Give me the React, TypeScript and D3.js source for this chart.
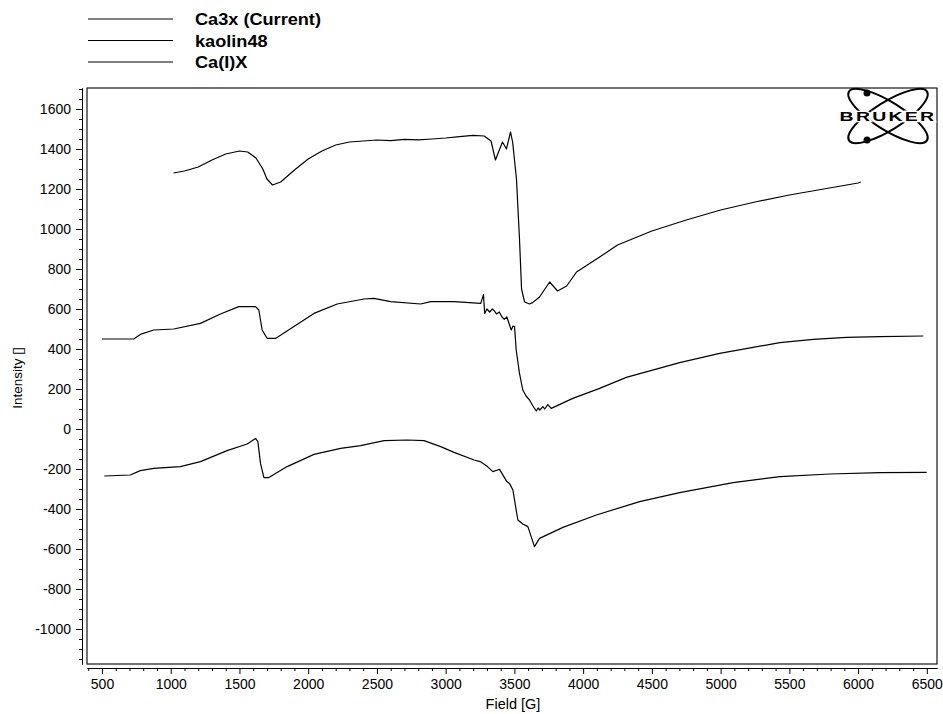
import React, { useEffect, useRef } from "react";
import * as d3 from "d3";

// EPR spectra, field [G] vs intensity
const ca3x: [number, number][] = [
  [1020, 1280], [1100, 1290], [1200, 1310], [1300, 1345], [1400, 1375], [1500, 1390],
  [1560, 1385], [1620, 1355], [1670, 1300], [1700, 1250], [1740, 1220], [1800, 1235],
  [1900, 1295], [2000, 1350], [2100, 1390], [2200, 1420], [2300, 1435], [2400, 1440],
  [2500, 1445], [2600, 1442], [2700, 1448], [2800, 1446], [2900, 1450], [3000, 1455],
  [3100, 1462], [3200, 1468], [3280, 1465], [3330, 1440], [3362, 1345], [3413, 1435],
  [3442, 1400], [3472, 1485], [3487, 1435], [3515, 1250], [3537, 950], [3552, 700],
  [3574, 635], [3610, 625], [3632, 632], [3683, 660], [3756, 735], [3814, 690],
  [3880, 715], [3952, 785], [4120, 860], [4250, 920], [4500, 990], [4750, 1045],
  [5000, 1095], [5250, 1135], [5500, 1170], [5750, 1200], [6000, 1230], [6020, 1235],
];

const kaolin48: [number, number][] = [
  [500, 450], [731, 450], [779, 473], [876, 495], [1022, 500], [1216, 528], [1362, 575],
  [1495, 612], [1617, 612], [1641, 595], [1665, 495], [1702, 453], [1762, 453],
  [1896, 512], [2042, 578], [2211, 625], [2406, 650], [2478, 653], [2600, 637],
  [2818, 625], [2891, 637], [3061, 637], [3255, 628], [3275, 672], [3284, 578],
  [3300, 600], [3320, 585], [3340, 600], [3353, 592], [3370, 575], [3390, 585],
  [3410, 560], [3426, 548], [3445, 560], [3460, 530], [3477, 495], [3490, 515],
  [3501, 512], [3513, 395], [3537, 278], [3561, 195], [3585, 165], [3610, 145],
  [3635, 115], [3659, 90], [3672, 105], [3685, 95], [3707, 112], [3720, 100],
  [3743, 122], [3768, 103], [3925, 153], [4120, 203], [4314, 258], [4702, 332],
  [4993, 378], [5236, 408], [5431, 432], [5674, 448], [5916, 458], [6159, 462], [6475, 465],
];

const caIX: [number, number][] = [
  [517, -235], [706, -230], [779, -208], [876, -197], [1070, -188], [1216, -163],
  [1410, -108], [1556, -75], [1617, -47], [1634, -63], [1653, -172], [1678, -243],
  [1714, -243], [1847, -188], [2042, -127], [2236, -97], [2381, -83], [2552, -58],
  [2721, -55], [2843, -58], [2964, -88], [3061, -117], [3207, -155], [3251, -163],
  [3304, -188], [3343, -213], [3377, -205], [3392, -202], [3445, -263], [3464, -272],
  [3489, -305], [3525, -455], [3561, -475], [3598, -488], [3646, -588], [3683, -547],
  [3853, -492], [4096, -430], [4411, -363], [4702, -318], [5091, -268], [5431, -238],
  [5795, -225], [6159, -218], [6499, -217],
];

const seriesNames = ["Ca3x (Current)", "kaolin48", "Ca(I)X"];
const xMajor = [500, 1000, 1500, 2000, 2500, 3000, 3500, 4000, 4500, 5000, 5500, 6000, 6500];
const yMajor = [1600, 1400, 1200, 1000, 800, 600, 400, 200, 0, -200, -400, -600, -800, -1000];

const W = 943;
const H = 714;
const FONT = "'Liberation Sans', Arial, sans-serif";

const App = () => {
  const ref = useRef<SVGSVGElement>(null);

  useEffect(() => {
    const svg = d3.select(ref.current);
    svg.selectAll("*").remove();

    const left = 87, right = 937, top = 88, bottom = 664;
    const x = d3.scaleLinear().domain([391, 6574]).range([left, right]);
    const y = d3.scaleLinear().domain([-1175, 1705]).range([bottom, top]);
    const plain = (d: any) => String(d);

    // frame
    svg.append("rect")
      .attr("x", left).attr("y", top)
      .attr("width", right - left).attr("height", bottom - top)
      .attr("fill", "none").attr("stroke", "#000").attr("stroke-width", 1.1);

    // y axis (offset left of frame)
    const yMinor = d3.range(-1150, 1701, 50).filter((v) => v % 200 !== 0);
    svg.append("g")
      .attr("transform", "translate(82,0)")
      .call(d3.axisLeft(y).tickValues(yMinor).tickSize(3).tickSizeOuter(0).tickFormat(() => ""));
    svg.append("g")
      .attr("transform", "translate(82,0)")
      .call(d3.axisLeft(y).tickValues(yMajor).tickSize(6).tickSizeOuter(0).tickPadding(5).tickFormat(plain))
      .call((g) => g.selectAll("text").attr("font-size", 14).attr("font-family", FONT).attr("fill", "#000"));

    // x axis (offset below frame)
    const xMinor = d3.range(400, 6501, 100).filter((v) => v % 500 !== 0);
    svg.append("g")
      .attr("transform", "translate(0,668)")
      .call(d3.axisBottom(x).tickValues(xMinor).tickSize(3).tickSizeOuter(0).tickFormat(() => ""));
    svg.append("g")
      .attr("transform", "translate(0,668)")
      .call(d3.axisBottom(x).tickValues(xMajor).tickSize(6).tickSizeOuter(0).tickPadding(5).tickFormat(plain))
      .call((g) => g.selectAll("text").attr("font-size", 14).attr("font-family", FONT).attr("fill", "#000"));

    svg.selectAll(".domain").attr("stroke", "#000");
    svg.selectAll(".tick line").attr("stroke", "#000");

    // axis titles
    svg.append("text")
      .attr("transform", "translate(22,378) rotate(-90)")
      .attr("text-anchor", "middle")
      .attr("font-family", FONT).attr("font-size", 13.5)
      .text("Intensity []");
    svg.append("text")
      .attr("x", 513).attr("y", 709)
      .attr("text-anchor", "middle")
      .attr("font-family", FONT).attr("font-size", 14.5)
      .text("Field [G]");

    // spectra
    const line = d3.line<[number, number]>().x((d) => x(d[0])).y((d) => y(d[1]));
    [ca3x, kaolin48, caIX].forEach((s) => {
      svg.append("path")
        .datum(s)
        .attr("fill", "none")
        .attr("stroke", "#000")
        .attr("stroke-width", 1.2)
        .attr("stroke-linejoin", "round")
        .attr("d", line);
    });

    // legend
    const lg = svg.append("g");
    seriesNames.forEach((name, i) => {
      const ly = 19 + i * 21.5;
      lg.append("line")
        .attr("x1", 88).attr("x2", 173).attr("y1", ly).attr("y2", ly)
        .attr("stroke", "#000").attr("stroke-width", 1);
      lg.append("text")
        .attr("transform", `translate(195,${ly + 6}) scale(1.1,1)`)
        .attr("font-family", FONT).attr("font-size", 16.5).attr("font-weight", "bold")
        .text(name);
    });

    // Bruker logo
    const logo = svg.append("g").attr("transform", "translate(888,116)");
    [32, -32].forEach((a) => {
      logo.append("ellipse")
        .attr("rx", 46).attr("ry", 14)
        .attr("transform", `rotate(${a})`)
        .attr("fill", "none").attr("stroke", "#000").attr("stroke-width", 2);
    });
    logo.append("circle").attr("cx", -21).attr("cy", -23).attr("r", 3.5).attr("fill", "#000");
    logo.append("circle").attr("cx", -21).attr("cy", 24).attr("r", 3.5).attr("fill", "#000");
    logo.append("text")
      .attr("transform", "translate(0,5) scale(1.5,1)")
      .attr("text-anchor", "middle")
      .attr("font-family", FONT).attr("font-size", 13).attr("font-weight", "bold")
      .attr("letter-spacing", 1.5)
      .attr("stroke", "#fff").attr("stroke-width", 2.5).attr("paint-order", "stroke")
      .text("BRUKER");
  }, []);

  return (
    <div>
      <svg ref={ref} width={W} height={H} style={{ position: "absolute", left: 0, top: 0, background: "#fff" }} />
    </div>
  );
};

export default App;
